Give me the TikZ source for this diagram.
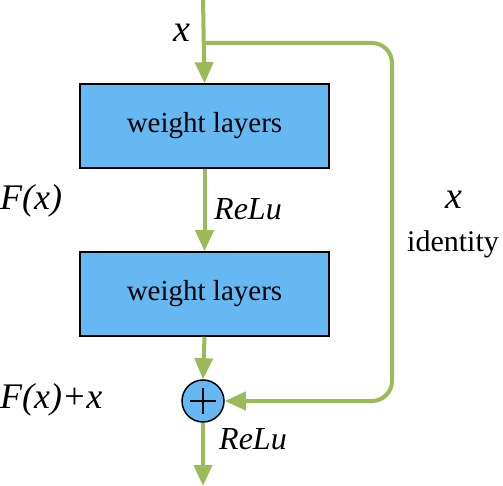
\documentclass[tikz,border=0pt]{standalone}
\usepackage{fontspec}
\setmainfont{Liberation Serif}
\usetikzlibrary{arrows.meta}
\definecolor{gline}{HTML}{9BBB59}
\definecolor{bfill}{HTML}{66B8F2}
\begin{document}
\begin{tikzpicture}[x=1pt,y=-1pt,
  wbox/.style={draw=black,line width=1.5pt,fill=bfill,minimum width=249pt,minimum height=84pt,inner sep=0pt,font=\fontsize{29}{33}\selectfont},
  conn/.style={draw=gline,line width=4pt,-{Triangle[length=21pt,width=18pt]}},
  lab/.style={font=\fontsize{32}{36}\selectfont\itshape,inner sep=0pt},
  xlab/.style={font=\fontsize{38}{42}\selectfont\itshape,inner sep=0pt},
  flab/.style={font=\fontsize{36}{40}\selectfont\itshape,inner sep=0pt},
  rlab/.style={font=\fontsize{30}{34}\selectfont,inner sep=0pt}]
\useasboundingbox (0,0) rectangle (503,486);
\coordinate (top) at (203,0);
\coordinate (split) at (203,43);
\coordinate (bot) at (203,486);
\coordinate (rt) at (392,43);
\coordinate (rb) at (392,401);
\node[wbox] (b1) at (204.5,126) {weight layers};
\node[wbox] (b2) at (204.5,294) {weight layers};
\node[circle,draw=black,line width=1.5pt,fill=bfill,minimum size=42pt,inner sep=0pt] (add) at (203,401) {};
\draw[line width=1.2pt] ([xshift=-13pt]add.center) -- ([xshift=13pt]add.center);
\draw[line width=1.2pt] ([yshift=-13pt]add.center) -- ([yshift=13pt]add.center);
\draw[conn] (top) -- (b1.north);
\draw[conn] (b1.south) -- (b2.north);
\draw[conn] (b2.south) -- (add.north);
\draw[conn] (add.south) -- (bot);
\draw[conn,rounded corners=20pt] (split) -- (rt) -- (rb) -- (add.east);
\node[xlab] (lx) at (182,33) {x};
\node[flab,anchor=west] (lf) at (0,201) {F(x)};
\node[lab,anchor=west] (lr1) at (214,209) {ReLu};
\node[flab,anchor=west] (lfx) at (0,400) {F(x)+x};
\node[lab,anchor=west] (lr2) at (219,439) {ReLu};
\node[xlab] (lx2) at (454,200) {x};
\node[rlab] (lid) at (453,244) {identity};
\end{tikzpicture}
\end{document}
